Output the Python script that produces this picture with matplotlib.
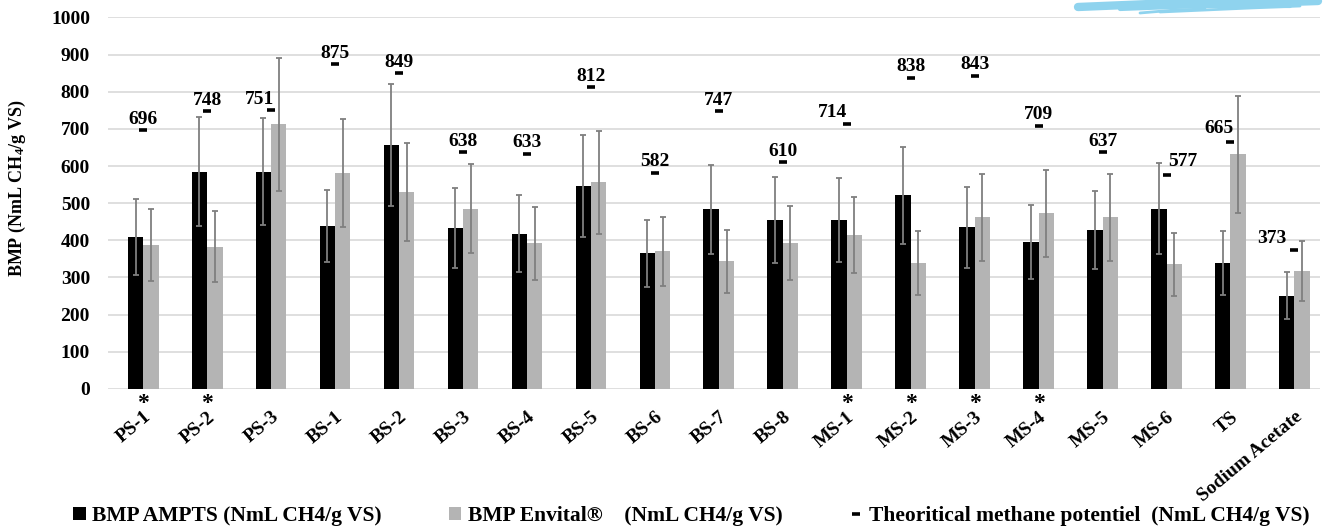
import numpy as np
import matplotlib
matplotlib.use("Agg")
import matplotlib.pyplot as plt
from matplotlib.patches import Patch
from matplotlib.lines import Line2D

# --- Daten ---
samples = ['PS-1', 'PS-2', 'PS-3', 'BS-1', 'BS-2', 'BS-3', 'BS-4', 'BS-5', 'BS-6',
           'BS-7', 'BS-8', 'MS-1', 'MS-2', 'MS-3', 'MS-4', 'MS-5', 'MS-6', 'TS',
           'Sodium Acetate']
bmp_ampts = [408, 585, 585, 439, 657, 433, 418, 546, 365, 483, 455, 455, 521, 435,
             396, 427, 485, 339, 251]
bmp_ampts_err = [102, 147, 145, 97, 165, 107, 104, 137, 90, 120, 116, 114, 131, 109,
                 100, 105, 122, 86, 64]
bmp_envital = [388, 383, 713, 581, 530, 485, 392, 556, 371, 343, 393, 414, 339, 462,
               473, 462, 336, 631, 318]
bmp_envital_err = [97, 96, 179, 145, 133, 120, 99, 138, 93, 86, 100, 103, 85, 117,
                   117, 117, 85, 157, 81]
theoretical = [696, 748, 751, 875, 849, 638, 633, 812, 582, 747, 610, 714, 838, 843,
               709, 637, 577, 665, 373]
significant = ['PS-1', 'PS-2', 'MS-1', 'MS-2', 'MS-3', 'MS-4']

# Beschriftungen, die nicht mittig ueber dem Strich stehen: (ha, dx, dy) in Punkten
label_pos = {'PS-3': ('right', 2, 4.5), 'MS-1': ('right', 0, 4.5),
             'MS-6': ('left', 1, 6.5), 'TS': ('right', 2, 6.5),
             'Sodium Acetate': ('right', -6, 5)}

plt.rcParams['font.family'] = ['Liberation Serif', 'DejaVu Serif']
plt.rcParams['font.weight'] = 'bold'
plt.rcParams['mathtext.fontset'] = 'custom'
plt.rcParams['mathtext.rm'] = 'Liberation Serif:bold'
plt.rcParams['mathtext.it'] = 'Liberation Serif:bold'
plt.rcParams['mathtext.default'] = 'rm'

fig = plt.figure(figsize=(13.24, 5.27), dpi=100)
ax = fig.add_axes([0.0816, 0.262, 0.9154, 0.705])

x = np.arange(len(samples))
w = 0.24
err_kw = dict(ecolor='#7f7f7f', elinewidth=1.3, capsize=2.5, capthick=1.3)
ax.bar(x - w / 2, bmp_ampts, w, color='black', yerr=bmp_ampts_err,
       error_kw=err_kw, zorder=3)
ax.bar(x + w / 2, bmp_envital, w, color='#b4b4b4', yerr=bmp_envital_err,
       error_kw=err_kw, zorder=3)
ax.plot(x, theoretical, linestyle='none', marker='_', markersize=6,
        markeredgewidth=2.6, color='black', zorder=4)

# Werte der theoretischen Methanpotentiale
for xi, name, val in zip(x, samples, theoretical):
    ha, dx, dy = label_pos.get(name, ('center', 0, 4.5))
    ax.annotate(str(val), (xi, val), xytext=(dx, dy), textcoords='offset points',
                ha=ha, va='baseline', fontsize=14, fontweight='bold')

# Sternchen fuer signifikante Unterschiede
for xi, name in zip(x, samples):
    if name in significant:
        ax.annotate('*', (xi, 0), xytext=(0, -3), textcoords='offset points',
                    ha='center', va='top', fontsize=17, fontweight='bold',
                    annotation_clip=False)

ax.set_ylim(0, 1000)
ax.set_xlim(-0.55, 18.4)
ax.set_yticks(np.arange(0, 1001, 100))
ax.yaxis.grid(True, color='#d9d9d9', linewidth=1.2, zorder=0)
ax.set_axisbelow(True)
for s in ax.spines.values():
    s.set_visible(False)
ax.tick_params(axis='y', length=0, pad=13, labelsize=14)
ax.tick_params(axis='x', length=0, pad=14, labelsize=14)
ax.set_xticks(x)
ax.set_xticklabels(samples, rotation=40, ha='right', rotation_mode='anchor',
                   fontweight='bold')
ax.set_ylabel('BMP (NmL CH$_4$/g VS)', fontsize=13, fontweight='bold')
ax.yaxis.set_label_coords(-0.066, 0.54)

handles = [Patch(facecolor='black', label='BMP AMPTS (NmL CH4/g VS)'),
           Patch(facecolor='#b4b4b4', label='BMP Envital®    (NmL CH4/g VS)'),
           Line2D([], [], linestyle='none', marker='_', markersize=6,
                  markeredgewidth=2.6, color='black',
                  label='Theoritical methane potentiel  (NmL CH4/g VS)')]
fig.legend(handles=handles, loc='lower center', bbox_to_anchor=(0.522, -0.035), ncol=3,
           frameon=False, handlelength=0.6, handleheight=0.6,
           handletextpad=0.3, columnspacing=3.1,
           prop={'weight': 'bold', 'size': 15.5})

# blauer Schwung oben rechts (Logo-Rest)
for pts, lw in [([(1078, 7), (1150, 4), (1230, 4), (1318, 1)], 6),
                ([(1120, 9), (1200, 6), (1290, 6)], 3),
                ([(1140, 13), (1175, 10), (1205, 9)], 2),
                ([(1160, 12), (1250, 8), (1300, 6)], 2)]:
    px = [p[0] / 1324 for p in pts]
    py = [1 - p[1] / 527 for p in pts]
    fig.add_artist(Line2D(px, py, color='#8fd3ee', linewidth=lw,
                          solid_capstyle='round', transform=fig.transFigure))

fig.savefig('out.png', dpi=100)
